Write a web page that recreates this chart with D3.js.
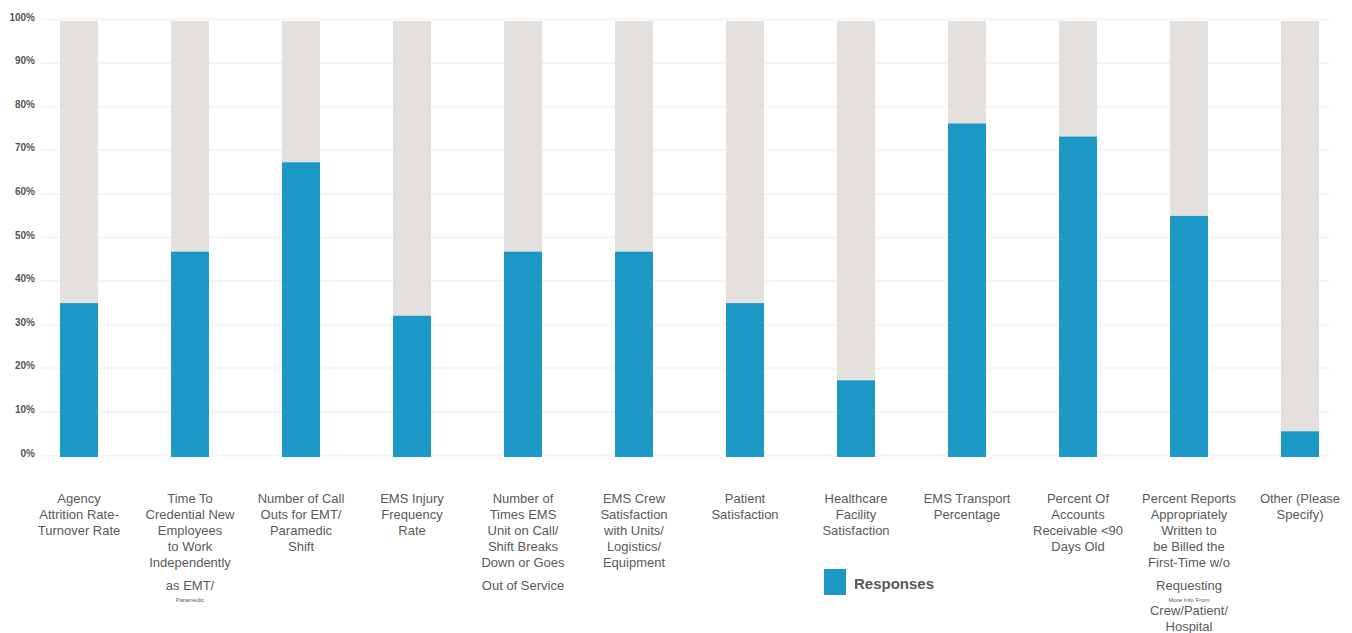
<!DOCTYPE html>
<html>
<head>
<meta charset="utf-8">
<script src="https://cdn.jsdelivr.net/npm/d3@7"></script>
<style>
  body { margin: 0; background: #fff; }
  svg { font-family: "Liberation Sans", Arial, sans-serif; }
</style>
</head>
<body>
<div id="chart-container"></div>
<script>
// Categories: each label is a list of lines; {t, small} marks the tiny lines, {t, gap} the detached ones
const categories = [
  ["Agency", "Attrition Rate-", "Turnover Rate"],
  ["Time To", "Credential New", "Employees", "to Work", "Independently", {t: "as EMT/", gap: true}, {t: "Paramedic", small: true}],
  ["Number of Call", "Outs for EMT/", "Paramedic", "Shift"],
  ["EMS Injury", "Frequency", "Rate"],
  ["Number of", "Times EMS", "Unit on Call/", "Shift Breaks", "Down or Goes", {t: "Out of Service", gap: true}],
  ["EMS Crew", "Satisfaction", "with Units/", "Logistics/", "Equipment"],
  ["Patient", "Satisfaction"],
  ["Healthcare", "Facility", "Satisfaction"],
  ["EMS Transport", "Percentage"],
  ["Percent Of", "Accounts", "Receivable <90", "Days Old"],
  ["Percent Reports", "Appropriately", "Written to", "be Billed the", "First-Time w/o", {t: "Requesting", gap: true}, {t: "More Info From", small: true}, "Crew/Patient/", "Hospital"],
  ["Other (Please", "Specify)"]
];

// Responses (% of respondents)
const responses = [35.3, 47.1, 67.6, 32.4, 47.1, 47.1, 35.3, 17.6, 76.5, 73.5, 55.3, 5.9];

const yTicks = [0, 10, 20, 30, 40, 50, 60, 70, 80, 90, 100];
const seriesName = "Responses";

const width = 1352, height = 633;
const blue = "#1b98c6", rest = "#e3e0dd", textColor = "#5a5a5a";

const svg = d3.select("#chart-container")
  .append("svg")
  .attr("width", width)
  .attr("height", height);

const x = d3.scaleBand()
  .domain(d3.range(categories.length))
  .range([23.5, 1355.5])
  .paddingInner(0.658)
  .paddingOuter(0.329);

const y = d3.scaleLinear().domain([0, 100]).range([457, 21]);

// gridlines
svg.append("g")
  .selectAll("line")
  .data(yTicks)
  .enter()
  .append("line")
  .attr("x1", 41)
  .attr("x2", 1329)
  .attr("y1", d => y(d) - 1.5)
  .attr("y2", d => y(d) - 1.5)
  .attr("stroke", "#f4f4f4")
  .attr("stroke-width", 2);

// y tick labels
svg.append("g")
  .selectAll("text")
  .data(yTicks)
  .enter()
  .append("text")
  .attr("x", 35)
  .attr("y", d => y(d) - 0.5)
  .attr("text-anchor", "end")
  .attr("font-size", "10px")
  .attr("font-weight", "bold")
  .attr("fill", "#555")
  .text(d => d + "%");

// remainder bars (to 100%)
svg.append("g")
  .selectAll("rect")
  .data(responses)
  .enter()
  .append("rect")
  .attr("x", (d, i) => x(i))
  .attr("width", x.bandwidth())
  .attr("y", y(100))
  .attr("height", d => y(d) - y(100))
  .attr("fill", rest);

// response bars
svg.append("g")
  .selectAll("rect")
  .data(responses)
  .enter()
  .append("rect")
  .attr("x", (d, i) => x(i))
  .attr("width", x.bandwidth())
  .attr("y", d => y(d))
  .attr("height", d => y(0) - y(d))
  .attr("fill", blue);

// category labels
categories.forEach((lines, i) => {
  const cx = x(i) + x.bandwidth() / 2;
  const items = lines.map(ln => typeof ln === "string" ? { t: ln } : ln);
  let yy = 503;
  items.forEach((item, k) => {
    if (k > 0) {
      if (item.small) yy += 12;
      else if (item.gap) yy += 23;
      else if (items[k - 1].small) yy += 13;
      else yy += 16;
    }
    svg.append("text")
      .attr("x", cx)
      .attr("y", yy)
      .attr("text-anchor", "middle")
      .attr("font-size", item.small ? "6px" : "13px")
      .attr("fill", textColor)
      .text(item.t);
  });
});

// legend
const legend = svg.append("g").attr("transform", "translate(824,569)");
legend.append("rect")
  .attr("width", 22)
  .attr("height", 26)
  .attr("fill", blue);
legend.append("text")
  .attr("x", 30)
  .attr("y", 20)
  .attr("font-size", "15px")
  .attr("font-weight", "bold")
  .attr("fill", textColor)
  .text(seriesName);
</script>
</body>
</html>
